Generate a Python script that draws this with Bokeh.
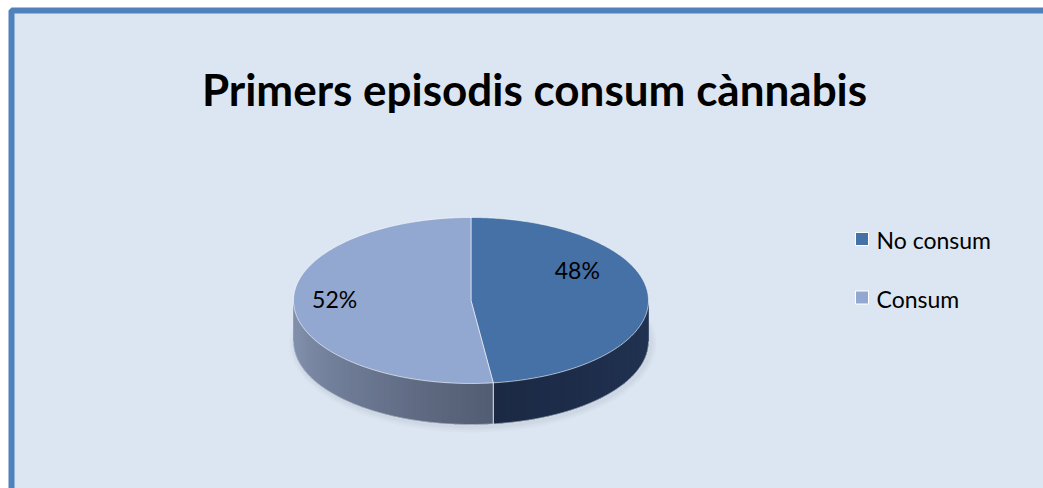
import math
from bokeh.plotting import figure
from bokeh.models import Range1d
from bokeh.core.properties import value
from bokeh.embed import file_html
from bokeh.resources import INLINE

# ---- data ----
title = "Primers episodis consum cànnabis"
categories = ["No consum", "Consum"]
values = [48, 52]
top_colors = ["#4571A7", "#93A8D0"]
side_colors_a = [(34, 52, 84), (82, 92, 114)]     # side colour at slice's start angle
side_colors_b = [(27, 41, 68), (136, 151, 181)]   # side colour at slice's end angle
label_radius = [0.6, 0.77]
label_dy = [-27, -6]

W, H = 1043, 488
FONT = "Lato"

p = figure(width=W, height=H, output_backend="svg", toolbar_location=None,
           x_range=Range1d(0, W), y_range=Range1d(H, 0), min_border=0)
p.axis.visible = False
p.grid.visible = False
p.outline_line_color = None
p.background_fill_color = "white"
p.border_fill_color = "white"

# chart area frame
p.quad(left=[11], right=[1080], top=[10], bottom=[540], fill_color="#DCE6F2",
       line_color="#4F81BD", line_width=6)

# title
p.text(x=[534], y=[88], text=[title], text_font=value(FONT), text_font_style="bold",
       text_font_size="44px", text_align="center", text_baseline="alphabetic",
       text_color="black")

# pie geometry
cx, cy, rx, ry, depth = 470.5, 300.0, 177.5, 83.0, 41.0


def pt(theta_deg, f=1.0):
    t = math.radians(theta_deg)
    return cx + rx * f * math.sin(t), cy - ry * f * math.cos(t)


total = float(sum(values))
angles = []
a = 0.0
for v in values:
    b = a + 360.0 * v / total
    angles.append((a, b))
    a = b

# soft shadow
for k, alpha in [(6, 0.04), (4, 0.05), (2, 0.06)]:
    p.ellipse(x=[cx + 2], y=[cy + depth + 2], width=[2 * rx + 2 * k], height=[2 * ry + 2 * k],
              fill_color="#7A8494", fill_alpha=alpha, line_color=None)

# sides (front visible half: 90..270)
for i, (a0, a1) in enumerate(angles):
    s0, s1 = max(a0, 90.0), min(a1, 270.0)
    if s1 <= s0:
        continue
    n = int((s1 - s0) / 1.0) + 1
    ca, cb = side_colors_a[i], side_colors_b[i]
    # base polygon in middle colour
    bxs, bys = [], []
    for j in range(n + 1):
        x, y = pt(s0 + (s1 - s0) * j / n)
        bxs.append(x)
        bys.append(y)
    for j in range(n, -1, -1):
        x, y = pt(s0 + (s1 - s0) * j / n)
        bxs.append(x)
        bys.append(y + depth)
    cm = tuple(int(round((ca[k] + cb[k]) / 2)) for k in range(3))
    p.patch(bxs, bys, fill_color="#%02x%02x%02x" % cm, line_color=None)
    xs_list, ys_list, cols = [], [], []
    for j in range(n):
        t0 = s0 + (s1 - s0) * j / n
        t1 = min(s0 + (s1 - s0) * (j + 1.6) / n, s1)
        x0, y0 = pt(t0)
        x1, y1 = pt(t1)
        xs_list.append([x0, x1, x1, x0])
        ys_list.append([y0, y1, y1 + depth, y0 + depth])
        u = (j + 0.5) / n
        c = tuple(int(round(ca[k] + (cb[k] - ca[k]) * u)) for k in range(3))
        cols.append("#%02x%02x%02x" % c)
    p.patches(xs=xs_list, ys=ys_list, fill_color=cols, line_color=None)
    # vertical edge at slice boundary (front)
    for t in (a0, a1):
        if 90.0 < t < 270.0:
            x, y = pt(t)
            p.line([x, x], [y, y + depth], line_color="white", line_alpha=0.7, line_width=1)

# bottom outline of side
bx, by = [], []
for j in range(181):
    t = 90 + j
    x, y = pt(t)
    bx.append(x)
    by.append(y + depth)
p.line(bx, by, line_color="#C8D0DC", line_alpha=0.6, line_width=1)

# tops
for i, (a0, a1) in enumerate(angles):
    n = max(int(a1 - a0), 2)
    xs = [cx]
    ys = [cy]
    for j in range(n + 1):
        x, y = pt(a0 + (a1 - a0) * j / n)
        xs.append(x)
        ys.append(y)
    p.patch(xs, ys, fill_color=top_colors[i], line_color="white", line_alpha=0.55, line_width=1)

# labels
for i, (a0, a1) in enumerate(angles):
    mid = (a0 + a1) / 2
    x, y = pt(mid, label_radius[i])
    p.text(x=[x], y=[y + label_dy[i]], text=["%d%%" % round(100 * values[i] / total)],
           text_font=value(FONT), text_font_size="23px", text_align="center",
           text_baseline="middle", text_color="black")

# legend
leg_x, leg_y0, leg_dy = 861.5, 238.5, 58.5
for i, cat in enumerate(categories):
    y = leg_y0 + i * leg_dy
    p.rect(x=[leg_x], y=[y], width=[13], height=[13], fill_color=top_colors[i],
           line_color="white", line_width=1)
    p.text(x=[876], y=[y + 1], text=[cat], text_font=value(FONT), text_font_size="23px",
           text_align="left", text_baseline="middle", text_color="black")

open("out.html", "w").write(file_html(p, INLINE))
